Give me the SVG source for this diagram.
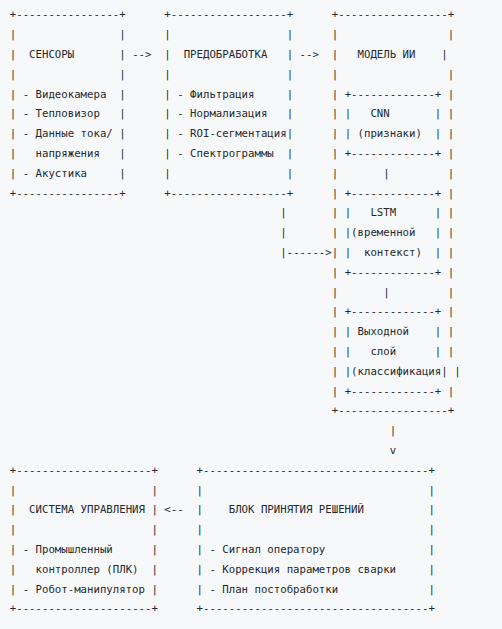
<svg xmlns="http://www.w3.org/2000/svg" width="502" height="629" viewBox="0 0 502 629" xml:space="preserve">
<style>
text{font-family:"DejaVu Sans Mono","Liberation Mono",monospace;font-size:10.7px;fill:#24292f;white-space:pre}
</style>
<rect width="502" height="629" fill="#f6f8fa"/>

<g id="sensors">
<text x="9.8" y="18.4" textLength="115.92" lengthAdjust="spacing">+----------------+</text>
<text x="9.8 9.8 9.8 9.8 9.8 9.8 9.8 9.8" y="38.2 58 77.8 97.6 117.4 137.2 157 176.8">||||||||</text>
<text x="119.28 119.28 119.28 119.28 119.28 119.28 119.28 119.28" y="38.2 58 77.8 97.6 117.4 137.2 157 176.8">||||||||</text>
<text x="29.12" y="58">СЕНСОРЫ</text>
<text x="22.68" y="97.6">- Видеокамера</text>
<text x="22.68" y="117.4">- Тепловизор</text>
<text x="22.68" y="137.2">- Данные тока/</text>
<text x="35.56" y="157">напряжения</text>
<text x="22.68" y="176.8">- Акустика</text>
<text x="9.8" y="196.6" textLength="115.92" lengthAdjust="spacing">+----------------+</text>
</g>

<g id="preprocessing">
<text x="164.36" y="18.4" textLength="128.8" lengthAdjust="spacing">+------------------+</text>
<text x="164.36 164.36 164.36 164.36 164.36 164.36 164.36 164.36" y="38.2 58 77.8 97.6 117.4 137.2 157 176.8">||||||||</text>
<text x="286.72 286.72 286.72 286.72 286.72 286.72 286.72 286.72" y="38.2 58 77.8 97.6 117.4 137.2 157 176.8">||||||||</text>
<text x="183.68" y="58">ПРЕДОБРАБОТКА</text>
<text x="177.24" y="97.6">- Фильтрация</text>
<text x="177.24" y="117.4">- Нормализация</text>
<text x="177.24" y="137.2">- ROI-сегментация</text>
<text x="177.24" y="157">- Спектрограммы</text>
<text x="164.36" y="196.6" textLength="128.8" lengthAdjust="spacing">+------------------+</text>
</g>

<g id="ai-model">
<text x="331.8" y="18.4" textLength="122.36" lengthAdjust="spacing">+-----------------+</text>
<text x="331.8 331.8 331.8" y="38.2 58 77.8">|||</text>
<text x="447.72 441.28 447.72" y="38.2 58 77.8">|||</text>
<text x="357.56" y="58">МОДЕЛЬ ИИ</text>
<text x="331.8 331.8 331.8 331.8 331.8 331.8 331.8 331.8 331.8 331.8 331.8 331.8 331.8 331.8 331.8 331.8" y="97.6 117.4 137.2 157 176.8 196.6 216.4 236.2 256 275.8 295.6 315.4 335.2 355 374.8 394.6">||||||||||||||||</text>
<text x="447.72 447.72 447.72 447.72 447.72 447.72 447.72 447.72 447.72 447.72 447.72 447.72 447.72 447.72" y="97.6 117.4 137.2 157 176.8 196.6 216.4 236.2 256 275.8 295.6 315.4 335.2 355">||||||||||||||</text>
<text x="454.16" y="374.8">|</text>
<text x="447.72" y="394.6">|</text>
<text x="331.8" y="414.4" textLength="122.36" lengthAdjust="spacing">+-----------------+</text>

<g id="cnn">
<text x="344.68" y="97.6" textLength="96.6" lengthAdjust="spacing">+-------------+</text>
<text x="344.68 344.68" y="117.4 137.2">||</text>
<text x="434.84 434.84" y="117.4 137.2">||</text>
<text x="370.44" y="117.4">CNN</text>
<text x="357.56" y="137.2">(признаки)</text>
<text x="344.68" y="157" textLength="96.6" lengthAdjust="spacing">+-------------+</text>
</g>

<g id="lstm">
<text x="344.68" y="196.6" textLength="96.6" lengthAdjust="spacing">+-------------+</text>
<text x="344.68 344.68 344.68" y="216.4 236.2 256">|||</text>
<text x="434.84 434.84 434.84" y="216.4 236.2 256">|||</text>
<text x="370.44" y="216.4">LSTM</text>
<text x="351.12" y="236.2">(временной</text>
<text x="364" y="256">контекст)</text>
<text x="344.68" y="275.8" textLength="96.6" lengthAdjust="spacing">+-------------+</text>
</g>

<g id="output-layer">
<text x="344.68" y="315.4" textLength="96.6" lengthAdjust="spacing">+-------------+</text>
<text x="344.68 344.68 344.68" y="335.2 355 374.8">|||</text>
<text x="434.84 434.84" y="335.2 355">||</text>
<text x="441.28" y="374.8">|</text>
<text x="357.56" y="335.2">Выходной</text>
<text x="370.44" y="355">слой</text>
<text x="351.12" y="374.8">(классификация</text>
<text x="344.68" y="394.6" textLength="96.6" lengthAdjust="spacing">+-------------+</text>
</g>
</g>

<g id="control-system">
<text x="9.8" y="473.8" textLength="148.12" lengthAdjust="spacing">+---------------------+</text>
<text x="9.8 9.8 9.8 9.8 9.8 9.8" y="493.6 513.4 533.2 553 572.8 592.6">||||||</text>
<text x="151.48 151.48 151.48 151.48 151.48 151.48" y="493.6 513.4 533.2 553 572.8 592.6">||||||</text>
<text x="29.12" y="513.4">СИСТЕМА УПРАВЛЕНИЯ</text>
<text x="22.68" y="553">- Промышленный</text>
<text x="35.56" y="572.8">контроллер (ПЛК)</text>
<text x="22.68" y="592.6">- Робот-манипулятор</text>
<text x="9.8" y="612.4" textLength="148.12" lengthAdjust="spacing">+---------------------+</text>
</g>

<g id="decision-block">
<text x="196.56" y="473.8" textLength="238.28" lengthAdjust="spacing">+-----------------------------------+</text>
<text x="196.56 196.56 196.56 196.56 196.56 196.56" y="493.6 513.4 533.2 553 572.8 592.6">||||||</text>
<text x="428.4 428.4 428.4 428.4 428.4 428.4" y="493.6 513.4 533.2 553 572.8 592.6">||||||</text>
<text x="228.76" y="513.4">БЛОК ПРИНЯТИЯ РЕШЕНИЙ</text>
<text x="209.44" y="553">- Сигнал оператору</text>
<text x="209.44" y="572.8">- Коррекция параметров сварки</text>
<text x="209.44" y="592.6">- План постобработки</text>
<text x="196.56" y="612.4" textLength="238.28" lengthAdjust="spacing">+-----------------------------------+</text>
</g>

<g id="connectors">
<text x="132.16" y="58">--&gt;</text>
<text x="299.6" y="58">--&gt;</text>
<text x="280.28 280.28" y="216.4 236.2">||</text>
<text x="280.28" y="256">|------&gt;</text>
<text x="383.32" y="176.8">|</text>
<text x="383.32" y="295.6">|</text>
<text x="389.76" y="434.2">|</text>
<text x="389.76" y="454">v</text>
<text x="164.36" y="513.4">&lt;--</text>
</g>
</svg>
